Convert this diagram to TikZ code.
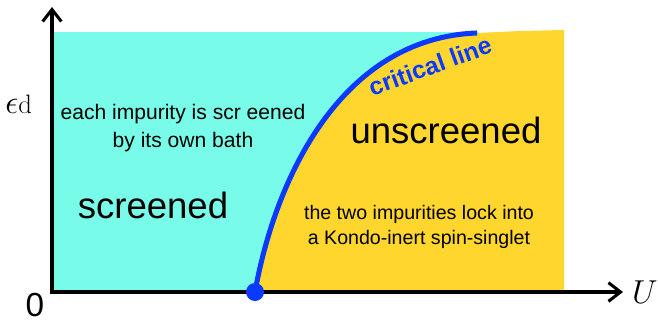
\documentclass[tikz,border=0pt]{standalone}
\usepackage{fontspec}
\setmainfont{Liberation Sans}
\newfontfamily\lmr{Latin Modern Roman}
\usetikzlibrary{arrows.meta}
\definecolor{cyanreg}{RGB}{120,252,233}
\definecolor{yellowreg}{RGB}{255,214,46}
\definecolor{critblue}{RGB}{10,58,255}
\tikzset{
  axis/.style={line width=2.3pt, -{Straight Barb[length=9pt,width=14pt,line width=2.3pt]}},
  lbl/.style={inner sep=0pt, align=center, text=black},
}
\begin{document}
\begin{tikzpicture}[x=0.75pt,y=-0.75pt]
\useasboundingbox (0,0) rectangle (658,325);
% regions
\fill[yellowreg] (255,292) .. controls (275,180) and (340,38) .. (477,33)
  -- (520,31) -- (564,30) -- (564,292) -- cycle;
\fill[cyanreg] (54,292) -- (255,292) .. controls (275,180) and (340,38) .. (477,33)
  -- (480,32) -- (54,32) -- cycle;
% critical line
\draw[critblue, line width=3.8pt] (255,292) .. controls (275,180) and (340,38) .. (477,33);
% axes
\coordinate (o) at (52,292);
\coordinate (ytip) at (52,7);
\coordinate (xtip) at (623,292);
\draw[axis] (52,293.5) -- (ytip);
\draw[axis] (50.5,292) -- (xtip);
\node[circle, fill=critblue, minimum size=13.5pt, inner sep=0pt] (qcp) at (255,292) {};
% labels
\node[lbl, text=critblue, rotate=20, font=\bfseries\fontsize{18.5}{22}\selectfont] (crit) at (430,66) {critical line};
\node[lbl, anchor=base west] (eps) at (5,113) {{\fontsize{24}{26}\selectfont$\epsilon$}{\lmr\fontsize{20}{22}\selectfont d}};
\node[lbl, font=\fontsize{25}{28}\selectfont] (zero) at (35,305) {0};
\node[lbl, font=\fontsize{27}{30}\selectfont] (U) at (645,292) {$U$};
\node[lbl, font=\fontsize{15.8}{20.5}\selectfont] (own) at (183,128) {each impurity is scr eened\\by its own bath};
\node[lbl, font=\fontsize{27.4}{30}\selectfont] (scr) at (153,205) {screened};
\node[lbl, font=\fontsize{27.4}{30}\selectfont] (unscr) at (446,130) {unscreened};
\node[lbl, font=\fontsize{14.7}{19}\selectfont] (lock) at (419,227) {the two impurities lock into\\a Kondo-inert spin-singlet};
\end{tikzpicture}
\end{document}
